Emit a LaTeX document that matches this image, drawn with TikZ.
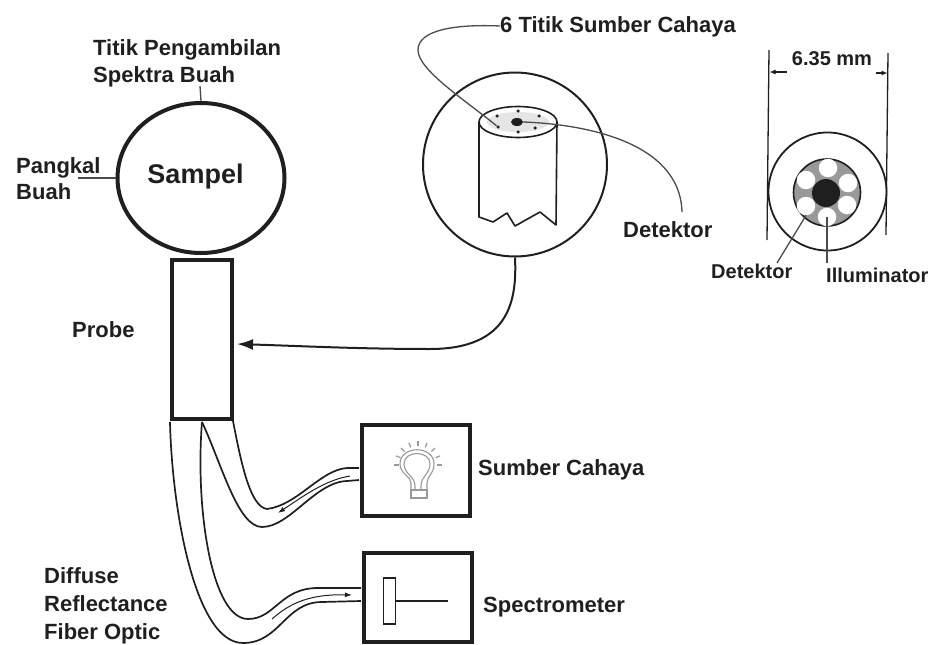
\documentclass[tikz,border=0pt]{standalone}
\usepackage{fontspec}
\setmainfont{Liberation Sans}
\usetikzlibrary{arrows.meta,shapes.geometric}
\definecolor{ink}{gray}{0.12}
\tikzset{
  lbl/.style={font=\bfseries\fontsize{22}{26}\selectfont,text=ink,inner sep=0pt,anchor=west,text height=16pt,text depth=4pt},
  lblsmall/.style={font=\bfseries\fontsize{20}{24}\selectfont,text=ink,inner sep=0pt,anchor=west,text height=16pt,text depth=4pt},
  thick box/.style={draw=ink,line width=4pt,fill=white,inner sep=0pt},
  leader/.style={draw=ink!80,line width=1.3pt},
  fibre/.style={draw=ink,line width=1.7pt},
  flow/.style={draw=ink,line width=1pt,-{Latex[length=7pt,width=5pt]}},
  bulb/.style={draw=black!40,line width=1.1pt},
  hole/.style={circle,fill=white,minimum size=18.5pt,inner sep=0pt},
  dot/.style={circle,fill=ink,minimum size=3.5pt,inner sep=0pt},
}
\begin{document}
\begin{tikzpicture}[x=1pt,y=-1pt]
\useasboundingbox (0,0) rectangle (930,645);
% Sample
\node[ellipse,draw=ink,line width=4pt,minimum width=167pt,minimum height=150pt,inner sep=0pt] (sampel) at (201,178) {};
\node[font=\bfseries\fontsize{27}{31}\selectfont,text=ink,inner sep=0pt] (sampeltxt) at (195.5,177) {Sampel};
\node[lbl] (titik1) at (93,50) {Titik Pengambilan};
\node[lbl] (titik2) at (93,76) {Spektra Buah};
\node[lbl] (pangkal) at (16,167) {Pangkal};
\node[lbl] (buah) at (16,193) {Buah};
\coordinate (titikfoot) at (200,86);
\coordinate (pangkalfoot) at (78,178);
\draw[leader] (titikfoot) -- (sampel.north);
\draw[leader] (pangkalfoot) -- (sampel.west);
% Probe
\node[thick box,minimum width=60pt,minimum height=159pt] (probe) at (202,339.5) {};
\node[lbl] (probetxt) at (72,331) {Probe};
% Boxes
\node[thick box,minimum width=108pt,minimum height=91pt] (src) at (416,470.5) {};
\node[thick box,minimum width=108pt,minimum height=89pt] (spec) at (418,597.5) {};
\node[lbl] (srctxt) at (478,469) {Sumber Cahaya};
\node[lbl] (spectxt) at (483,606) {Spectrometer};
\node[lbl] (d1) at (44,577) {Diffuse};
\node[lbl] (d2) at (44,605) {Reflectance};
\node[lbl] (d3) at (44,633) {Fiber Optic};
% Fibres
\coordinate (pA) at (233,421);
\coordinate (pB) at (202,422);
\coordinate (pC) at (170,422);
\coordinate (s1) at (359,468);
\coordinate (s2) at (359,480);
\coordinate (t1) at (361,588);
\coordinate (t2) at (361,601);
\draw[fibre] (pA) .. controls (241,462) and (250,507) .. (267,509) .. controls (298,505) and (320,470) .. (347,468) -- (s1);
\draw[fibre] (pB) .. controls (222,465) and (238,527) .. (262,527) .. controls (290,527) and (315,482) .. (347,481) -- (s2);
\draw[fibre] (pB) .. controls (195,510) and (212,619) .. (248,619) .. controls (275,619) and (280,588) .. (318,588) -- (t1);
\draw[fibre] (pC) .. controls (172,510) and (195,643) .. (243,643) .. controls (280,643) and (285,602) .. (322,602) -- (t2);
\coordinate (a1s) at (350,476);
\coordinate (a1e) at (278,513);
\coordinate (a2s) at (272,619);
\coordinate (a2e) at (352,595);
\draw[flow] (a1s) .. controls (325,480) and (302,497) .. (a1e);
\draw[flow] (a2s) .. controls (290,603) and (310,594) .. (a2e);
% Bulb
\coordinate (bc) at (418,465);
\draw[bulb] (415,490) -- (415,486) .. controls (415,476) and (404,474) .. (404,464) .. controls (404,450) and (430,450) .. (430,464) .. controls (430,474) and (421,476) .. (421,486) -- (421,490);
\draw[bulb] (411,490) -- (411,483) .. controls (411,476) and (400,474) .. (400,464) .. controls (400,445) and (434,445) .. (434,464) .. controls (434,474) and (427,476) .. (427,483) -- (427,490);
\draw[bulb] (411,490) rectangle (427,498);
\foreach \a in {0,22.5,...,180} {
  \draw[draw=black!40,line width=1.2pt] (bc) ++ (180+\a:19) -- ++(180+\a:5);
}
% Spectrometer element
\node[draw=ink,line width=1.5pt,minimum width=12pt,minimum height=46pt,inner sep=0pt] (grating) at (389.5,601) {};
\coordinate (specend) at (448,601);
\draw[draw=ink,line width=1.3pt] (grating.east) -- (specend);
% Lens circle
\node[circle,draw=ink,line width=2pt,minimum size=184pt,inner sep=0pt] (lens) at (515,164.5) {};
\draw[draw=ink,line width=1.6pt,line join=round] (479,122) -- (479,217) -- (493,222) -- (507,213) -- (515,226) -- (540,212) -- (556,225) -- (557,122);
\node[ellipse,draw=ink,line width=1.6pt,fill=white,minimum width=78pt,minimum height=31pt,inner sep=0pt] (top) at (518,122) {};
\node[ellipse,fill=black!10,minimum width=62pt,minimum height=20pt,inner sep=0pt] at (518,122) {};
\node[ellipse,fill=ink,minimum width=12pt,minimum height=8pt,inner sep=0pt] (core) at (517,122) {};
\foreach \n/\x/\y in {p1/497/116,p2/518/111,p3/539/116,p4/535/128,p5/518/132,p6/498/127}{
  \node[dot] (\n) at (\x,\y) {};
}
\node[lbl] (six) at (500,26) {6 Titik Sumber Cahaya};
\node[lbl] (det) at (623,231) {Detektor};
\draw[leader] (six.west) .. controls (455,24) and (418,30) .. (418,50) .. controls (418,70) and (465,100) .. (p6);
\coordinate (detfoot) at (682,212);
\draw[leader] (core.east) .. controls (580,124) and (680,140) .. (detfoot);
\draw[draw=ink,line width=2pt,-{Latex[length=16pt,width=11pt]}] (lens.south) .. controls (517,300) and (510,349) .. (430,349) .. controls (360,349) and (300,346) .. (237,344);
% Cross-section
\node[circle,draw=ink,line width=1.8pt,minimum size=118pt,inner sep=0pt] (outer) at (827.5,191.5) {};
\node[circle,draw=ink,line width=1.6pt,fill=black!40,minimum size=67pt,inner sep=0pt] (inner) at (827,192.5) {};
\foreach \n/\x/\y in {h1/828/168,h2/806/180,h3/848/183,h4/806/206,h5/847/205,h6/827/217}{
  \node[hole] (\n) at (\x,\y) {};
}
\node[circle,fill=ink,minimum size=28pt,inner sep=0pt] (corex) at (826,193) {};
\coordinate (vl1) at (769,50); \coordinate (vl2) at (767,240);
\coordinate (vr1) at (888,53); \coordinate (vr2) at (886,235);
\draw[draw=ink,line width=1.3pt] (vl1) -- (vl2);
\draw[draw=ink,line width=1.3pt] (vr1) -- (vr2);
\coordinate (al) at (787,72); \coordinate (ar) at (876,73);
\coordinate (alt) at (769.5,72); \coordinate (art) at (887.5,73);
\draw[draw=ink,line width=1.1pt,-{Latex[length=6pt,width=5pt]}] (al) -- (alt);
\draw[draw=ink,line width=1.1pt,-{Latex[length=6pt,width=5pt]}] (ar) -- (art);
\node[font=\bfseries\fontsize{20}{24}\selectfont,text=ink,inner sep=0pt] (dim) at (832,59) {6.35 mm};
\node[lblsmall] (xdet) at (711,272) {Detektor};
\node[lblsmall] (xill) at (826,276) {Illuminator};
\coordinate (xdetfoot) at (777,263);
\coordinate (xillfoot) at (827,263);
\draw[leader] (xdetfoot) -- (h4.south);
\draw[leader] (xillfoot) -- (h6.center);
\end{tikzpicture}
\end{document}
